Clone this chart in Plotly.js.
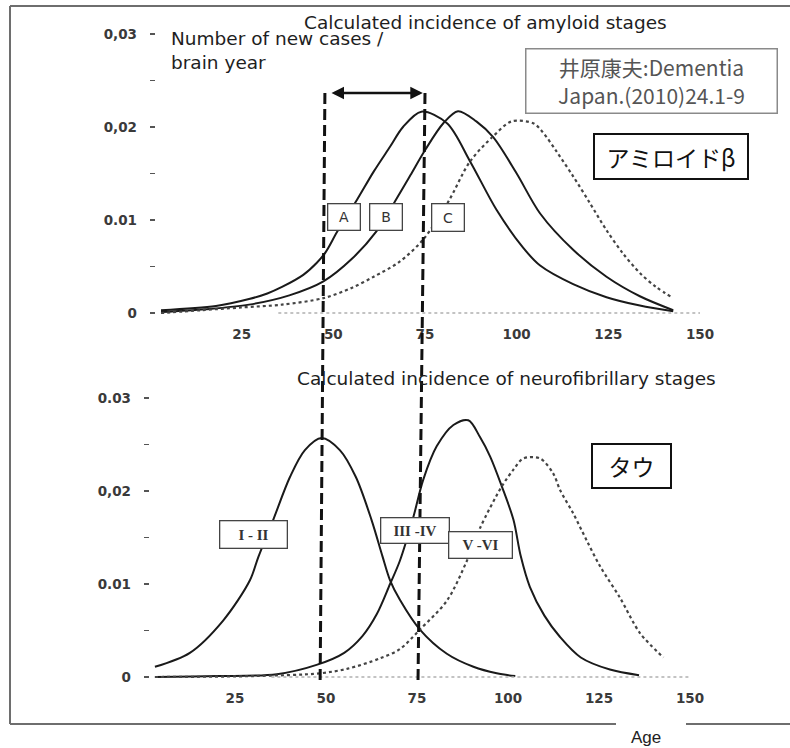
<!DOCTYPE html>
<html>
<head>
<meta charset="utf-8">
<script src="https://cdn.plot.ly/plotly-3.0.1.min.js"></script>
<style>html,body{margin:0;padding:0;background:#fff;}#chart{width:790px;height:748px;}</style>
</head>
<body>
<div id="chart"></div>
<script>
// ---------- data ----------
// Top panel: calculated incidence of amyloid stages (A, B, C)
const ageA = [3, 18, 27, 32, 36, 41.8, 45.5, 48, 51, 56.5, 61, 65.5, 69, 74, 81, 87.3, 94.5, 101.8, 106.4, 115.4, 124.5, 133.6, 142.7];
const valA = [0.0003, 0.00075, 0.0015, 0.0021, 0.0028, 0.0041, 0.0054, 0.0066, 0.0087, 0.0122, 0.0152, 0.0179, 0.0200, 0.02165, 0.0204, 0.0163, 0.0111, 0.0070, 0.0051, 0.0031, 0.0017, 0.0008, 0.0002];

const ageB = [3, 15, 27, 38, 47.3, 55, 61.8, 66.8, 71, 75, 80, 84, 89, 93.6, 100, 106.4, 115.4, 124.5, 133.6, 142.7];
const valB = [0.0001, 0.0004, 0.0009, 0.0019, 0.0034, 0.0058, 0.0088, 0.0120, 0.0148, 0.0175, 0.0204, 0.0217, 0.0206, 0.0189, 0.0150, 0.0107, 0.0068, 0.0039, 0.0018, 0.0003];

const ageC = [3, 14, 25, 36, 47.3, 55, 61, 68, 74.5, 81.4, 87.3, 93.6, 98.6, 104.5, 107, 111, 115.4, 120, 124.5, 129, 133.6, 138, 142.7];
const valC = [0.0000, 0.0003, 0.0006, 0.0009, 0.0016, 0.0027, 0.0039, 0.0055, 0.0079, 0.0120, 0.0163, 0.0190, 0.0206, 0.0204, 0.0195, 0.0173, 0.0147, 0.0118, 0.0089, 0.0064, 0.0043, 0.0028, 0.0016];

// Bottom panel: calculated incidence of neurofibrillary stages (I-II, III-IV, V-VI)
const ageI = [3, 12.6, 21.8, 29.1, 31.4, 35.5, 40.1, 44.2, 48.8, 53.8, 58.2, 62.5, 65.5, 67.6, 70.3, 75.8, 83.2, 90.5, 96.9, 102];
const valI = [0.0011, 0.0026, 0.0061, 0.0104, 0.0129, 0.0169, 0.0215, 0.0244, 0.0257, 0.0244, 0.0215, 0.0169, 0.0130, 0.0104, 0.0083, 0.0051, 0.0025, 0.0011, 0.0004, 0.0001];

const ageIII = [3, 20, 36.5, 47.4, 55, 60, 64, 67.6, 70.3, 74, 76.7, 80.4, 85, 89.1, 92.3, 95.1, 98.3, 101.5, 103.5, 106, 110, 114.3, 120, 128, 136];
const valIII = [0, 0.0001, 0.0003, 0.0013, 0.0026, 0.0044, 0.0068, 0.0100, 0.0125, 0.0172, 0.0212, 0.0248, 0.0271, 0.0276, 0.0258, 0.0237, 0.0205, 0.0169, 0.0130, 0.0097, 0.0066, 0.0043, 0.0021, 0.0008, 0.0002];

const ageV = [3, 30, 48.4, 56, 64.8, 70.3, 75.8, 83.2, 88.6, 92.3, 98.3, 101.5, 104.2, 108.8, 112.4, 114.3, 117.9, 121.6, 125.3, 130.8, 136.3, 142.7];
const valV = [0, 0.0001, 0.0004, 0.0009, 0.0020, 0.0030, 0.0051, 0.0082, 0.0124, 0.0160, 0.0205, 0.0223, 0.0235, 0.0235, 0.0219, 0.0201, 0.0176, 0.0147, 0.0119, 0.0085, 0.0047, 0.0021];

// Tick labels
const xTickVals = [25, 50, 75, 100, 125, 150];
const xTickText = ['25', '50', '75', '100', '125', '150'];
const yTickVals = [0, 0.005, 0.01, 0.015, 0.02, 0.025, 0.03];
const yTickTextTop = ['0', '', '0.01', '', '0,02', '', '0,03'];
const yTickTextBottom = ['0', '', '0.01', '', '0,02', '', '0.03'];

// Marker ages for the dashed guide lines and arrow
const guideAges = [48, 75];

// ---------- layout helpers ----------
const W = 790, H = 748;
const PX = v => v / W;
const PY = v => 1 - v / H;

const black = '#1a1a1a';
const solid = {color: black, width: 2};
const dotted = {color: '#444', width: 2.2, dash: 'dot'};
const sm = {shape: 'spline', smoothing: 0.9};

const traces = [
  {x: ageA, y: valA, xaxis: 'x', yaxis: 'y', mode: 'lines', line: Object.assign({}, solid, sm), name: 'A'},
  {x: ageB, y: valB, xaxis: 'x', yaxis: 'y', mode: 'lines', line: Object.assign({}, solid, sm), name: 'B'},
  {x: ageC, y: valC, xaxis: 'x', yaxis: 'y', mode: 'lines', line: Object.assign({}, dotted, sm), name: 'C'},
  {x: ageI, y: valI, xaxis: 'x2', yaxis: 'y2', mode: 'lines', line: Object.assign({}, solid, sm), name: 'I-II'},
  {x: ageIII, y: valIII, xaxis: 'x2', yaxis: 'y2', mode: 'lines', line: Object.assign({}, solid, sm), name: 'III-IV'},
  {x: ageV, y: valV, xaxis: 'x2', yaxis: 'y2', mode: 'lines', line: Object.assign({}, dotted, sm), name: 'V-VI'}
];

const tickFont = {family: 'DejaVu Sans', size: 13.5, color: '#3a3a3a', weight: 'bold'};
const yRange = [-0.0005, 0.031];

function xAxis(domain, anchor) {
  return {domain: domain, range: [0, 150], anchor: anchor, tickvals: xTickVals, ticktext: xTickText,
    ticks: '', showgrid: false, zeroline: false, showline: false, tickfont: tickFont, ticklabelstandoff: 7, fixedrange: true};
}
function yAxis(domain, anchor, txt) {
  return {domain: domain, range: yRange, anchor: anchor, tickvals: yTickVals, ticktext: txt,
    ticks: 'inside', ticklen: 5, tickwidth: 1.6, tickcolor: '#555', showgrid: false, zeroline: false, showline: false,
    tickfont: tickFont, ticklabelstandoff: 12, fixedrange: true};
}

const frame = {color: '#6e6e6e', width: 2};
const dash = {color: '#111', width: 3, dash: '11px,5px'};

const shapes = [
  {type: 'line', xref: 'paper', yref: 'paper', x0: PX(10), x1: 1, y0: PY(6), y1: PY(6), line: frame},
  {type: 'line', xref: 'paper', yref: 'paper', x0: PX(10), x1: PX(10), y0: PY(6), y1: PY(724), line: frame},
  {type: 'line', xref: 'paper', yref: 'paper', x0: PX(10), x1: PX(616), y0: PY(724), y1: PY(724), line: frame},
  {type: 'line', xref: 'paper', yref: 'paper', x0: PX(686), x1: 1, y0: PY(724), y1: PY(724), line: frame},
  // faint dotted baselines
  {type: 'line', xref: 'x', yref: 'y', x0: 35, x1: 150, y0: 0, y1: 0, line: {color: '#b0b0b0', width: 1.5, dash: 'dot'}},
  {type: 'line', xref: 'x2', yref: 'y2', x0: 35, x1: 150, y0: 0, y1: 0, line: {color: '#b0b0b0', width: 1.5, dash: 'dot'}},
  // dashed guide lines running through both panels
  {type: 'line', xref: 'x', yref: 'paper', x0: guideAges[0] - 1.6, x1: guideAges[0] - 0.3, y0: PY(680), y1: PY(93), line: dash},
  {type: 'line', xref: 'x', yref: 'paper', x0: guideAges[1] - 1.9, x1: guideAges[1], y0: PY(680), y1: PY(93), line: dash}
];

function box(text, cx, cy, w, h, opts) {
  const bw = opts.bw || 1.3;
  return {xref: 'paper', yref: 'paper', x: PX(cx), y: PY(cy), xanchor: 'center', yanchor: 'middle',
    text: text, showarrow: false, width: w - 2 * bw, height: h - 2 * bw, borderpad: 0,
    bordercolor: opts.bc || '#444', borderwidth: bw, bgcolor: '#ffffff', align: 'center', valign: 'middle',
    font: opts.font};
}

const letterFont = {family: 'DejaVu Sans', size: 14, color: '#333'};
const romanFont = {family: 'Liberation Serif', size: 15, color: '#333', weight: 'bold'};
const cjk = 'Noto Sans CJK JP';
const titleFont = {family: 'DejaVu Sans', size: 18.5, color: '#1e1e1e'};

const annotations = [
  {xref: 'paper', yref: 'paper', x: PX(485), y: PY(22), xanchor: 'center', yanchor: 'middle', showarrow: false,
    text: 'Calculated incidence of amyloid stages', font: titleFont},
  {xref: 'paper', yref: 'paper', x: PX(169), y: PY(51), xanchor: 'left', yanchor: 'middle', showarrow: false, align: 'left',
    text: 'Number of new cases /<br>brain year', font: titleFont},
  {xref: 'paper', yref: 'paper', x: PX(506), y: PY(378), xanchor: 'center', yanchor: 'middle', showarrow: false,
    text: 'Calculated incidence of neurofibrillary stages', font: titleFont},
  // double-headed arrow between the guide lines
  {xref: 'x', yref: 'y', x: guideAges[1] - 0.6, y: 0.02366, axref: 'x', ayref: 'y', ax: guideAges[0] + 1.1, ay: 0.02366,
    text: '', showarrow: true, arrowhead: 2, startarrowhead: 2, arrowside: 'end+start', arrowsize: 1, arrowwidth: 2.5, arrowcolor: '#111'},
  box('井原康夫:Dementia<br>Japan.(2010)24.1-9', 651.5, 80.5, 253, 66, {bc: '#8a8a8a', bw: 1.5, font: {family: cjk, size: 21, color: '#555'}}),
  box('アミロイドβ', 671, 156.5, 156, 47, {bc: '#111', bw: 2, font: {family: cjk, size: 23, color: '#111'}}),
  box('タウ', 631.5, 466, 81, 46, {bc: '#111', bw: 2, font: {family: cjk, size: 23, color: '#111'}}),
  box('A', 344, 217, 34, 28, {font: letterFont}),
  box('B', 386, 217, 34, 28, {font: letterFont}),
  box('C', 448, 217.5, 34, 29, {font: letterFont}),
  box('I - II', 253.5, 534.5, 69, 29, {font: romanFont}),
  box('III -IV', 415, 530.5, 70, 27, {font: romanFont}),
  box('V -VI', 480.5, 545, 65, 28, {font: romanFont}),
  {xref: 'paper', yref: 'paper', x: PX(646), y: PY(737), xanchor: 'center', yanchor: 'middle', showarrow: false,
    text: 'Age', font: {family: 'Liberation Sans', size: 17, color: '#222'}}
];

// domains computed from pixel positions: top panel 0 at y=313, bottom panel 0 at y=677, 93 px per 0.01
const topDomainY = [PY(313 - yRange[0] * 9300), PY(313 - yRange[1] * 9300)];
const botDomainY = [PY(677 - yRange[0] * 9300), PY(677 - yRange[1] * 9300)];

const layout = {
  width: W, height: H, margin: {l: 0, r: 0, t: 0, b: 0},
  paper_bgcolor: '#ffffff', plot_bgcolor: 'rgba(0,0,0,0)', showlegend: false,
  xaxis: xAxis([PX(150), PX(700)], 'y'),
  yaxis: yAxis(topDomainY, 'x', yTickTextTop),
  xaxis2: xAxis([PX(144), PX(690)], 'y2'),
  yaxis2: yAxis(botDomainY, 'x2', yTickTextBottom),
  shapes: shapes,
  annotations: annotations
};

Plotly.newPlot('chart', traces, layout, {staticPlot: true, displayModeBar: false});
</script>
</body>
</html>
